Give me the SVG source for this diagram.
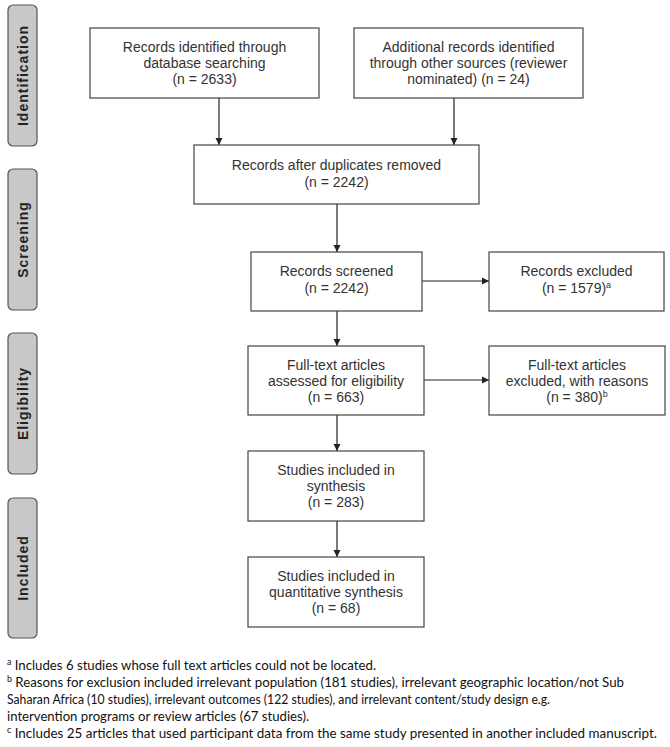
<svg xmlns="http://www.w3.org/2000/svg" width="670" height="747" viewBox="0 0 670 747">
<defs>
<style>
.bg{fill:#ffffff}
.bar{fill:#c8c8c8;stroke:#555555;stroke-width:1.2}
.barlbl{font-family:"Liberation Sans",Arial,sans-serif;font-weight:bold;font-size:14px;letter-spacing:1px;fill:#222222;text-anchor:middle}
.box{fill:#ffffff;stroke:#444444;stroke-width:1.2}
.t{font-family:"Liberation Sans",Arial,sans-serif;font-size:14px;fill:#333333;text-anchor:middle}
.sup{font-size:9px}
.edge{fill:none;stroke:#222222;stroke-width:1.2;marker-end:url(#ah)}
.fn{font-family:Lato,"Open Sans",sans-serif;font-size:13.5px;fill:#111111}
.fsup{font-size:9px}
</style>
<marker id="ah" markerWidth="8" markerHeight="8" refX="7" refY="4" orient="auto" markerUnits="userSpaceOnUse">
<path d="M0,0.5 L7,4 L0,7.5 Z" fill="#222222"/>
</marker>
</defs>
<rect class="bg" x="0" y="0" width="670" height="747"/>

<g id="phase-identification">
<rect class="bar" x="8" y="5" width="29" height="141" rx="5"/>
<text class="barlbl" transform="translate(22.5,75.5) rotate(-90)" x="0" y="5">Identification</text>
</g>
<g id="phase-screening">
<rect class="bar" x="8" y="169" width="29" height="141" rx="5"/>
<text class="barlbl" transform="translate(22.5,239.5) rotate(-90)" x="0" y="5">Screening</text>
</g>
<g id="phase-eligibility">
<rect class="bar" x="8" y="333" width="29" height="141" rx="5"/>
<text class="barlbl" transform="translate(22.5,403.5) rotate(-90)" x="0" y="5">Eligibility</text>
</g>
<g id="phase-included">
<rect class="bar" x="8" y="498" width="29" height="140" rx="5"/>
<text class="barlbl" transform="translate(22.5,568) rotate(-90)" x="0" y="5">Included</text>
</g>

<g id="connectors">
<path class="edge" d="M219,98 L219,145"/>
<path class="edge" d="M454,98 L454,145"/>
<path class="edge" d="M337,204 L337,252"/>
<path class="edge" d="M422,281 L489,281"/>
<path class="edge" d="M337,311 L337,346"/>
<path class="edge" d="M424,380 L489,380"/>
<path class="edge" d="M337,415 L337,451"/>
<path class="edge" d="M337,521 L337,557"/>
</g>

<g id="n-database">
<rect class="box" x="90" y="28" width="229" height="70"/>
<text class="t" x="204.5" y="52">Records identified through</text>
<text class="t" x="204.5" y="68">database searching</text>
<text class="t" x="204.5" y="84">(n = 2633)</text>
</g>
<g id="n-additional">
<rect class="box" x="354" y="28" width="229" height="70"/>
<text class="t" x="468.5" y="52">Additional records identified</text>
<text class="t" x="468.5" y="68">through other sources (reviewer</text>
<text class="t" x="468.5" y="84">nominated) (n = 24)</text>
</g>
<g id="n-duplicates">
<rect class="box" x="194" y="145" width="285" height="59"/>
<text class="t" x="336.5" y="170">Records after duplicates removed</text>
<text class="t" x="336.5" y="187">(n = 2242)</text>
</g>
<g id="n-screened">
<rect class="box" x="251" y="252" width="171" height="59"/>
<text class="t" x="336.5" y="276">Records screened</text>
<text class="t" x="336.5" y="293">(n = 2242)</text>
</g>
<g id="n-excluded">
<rect class="box" x="489" y="252" width="175" height="59"/>
<text class="t" x="576.5" y="276">Records excluded</text>
<text class="t" x="576.5" y="293">(n = 1579)<tspan class="sup" dy="-5">a</tspan></text>
</g>
<g id="n-fulltext">
<rect class="box" x="248" y="346" width="176" height="69"/>
<text class="t" x="336" y="370">Full-text articles</text>
<text class="t" x="336" y="386">assessed for eligibility</text>
<text class="t" x="336" y="402">(n = 663)</text>
</g>
<g id="n-fulltext-excluded">
<rect class="box" x="489" y="346" width="176" height="69"/>
<text class="t" x="577" y="370">Full-text articles</text>
<text class="t" x="577" y="386">excluded, with reasons</text>
<text class="t" x="577" y="402">(n = 380)<tspan class="sup" dy="-5">b</tspan></text>
</g>
<g id="n-synthesis">
<rect class="box" x="248" y="451" width="176" height="70"/>
<text class="t" x="336" y="475">Studies included in</text>
<text class="t" x="336" y="491">synthesis</text>
<text class="t" x="336" y="507">(n = 283)</text>
</g>
<g id="n-quantitative">
<rect class="box" x="248" y="557" width="176" height="70"/>
<text class="t" x="336" y="581">Studies included in</text>
<text class="t" x="336" y="597">quantitative synthesis</text>
<text class="t" x="336" y="613">(n = 68)</text>
</g>

<g id="footnotes">
<text class="fn" x="7" y="670" textLength="369" lengthAdjust="spacingAndGlyphs"><tspan class="fsup" dy="-5">a</tspan><tspan dy="5"> Includes 6 studies whose full text articles could not be located.</tspan></text>
<text class="fn" x="7" y="687" textLength="617" lengthAdjust="spacingAndGlyphs"><tspan class="fsup" dy="-5">b</tspan><tspan dy="5"> Reasons for exclusion included irrelevant population (181 studies), irrelevant geographic location/not Sub</tspan></text>
<text class="fn" x="7" y="704" textLength="543" lengthAdjust="spacingAndGlyphs">Saharan Africa (10 studies), irrelevant outcomes (122 studies), and irrelevant content/study design e.g.</text>
<text class="fn" x="7" y="721" textLength="302" lengthAdjust="spacingAndGlyphs">intervention programs or review articles (67 studies).</text>
<text class="fn" x="7" y="738" textLength="650" lengthAdjust="spacingAndGlyphs"><tspan class="fsup" dy="-5">c</tspan><tspan dy="5"> Includes 25 articles that used participant data from the same study presented in another included manuscript.</tspan></text>
</g>
</svg>
